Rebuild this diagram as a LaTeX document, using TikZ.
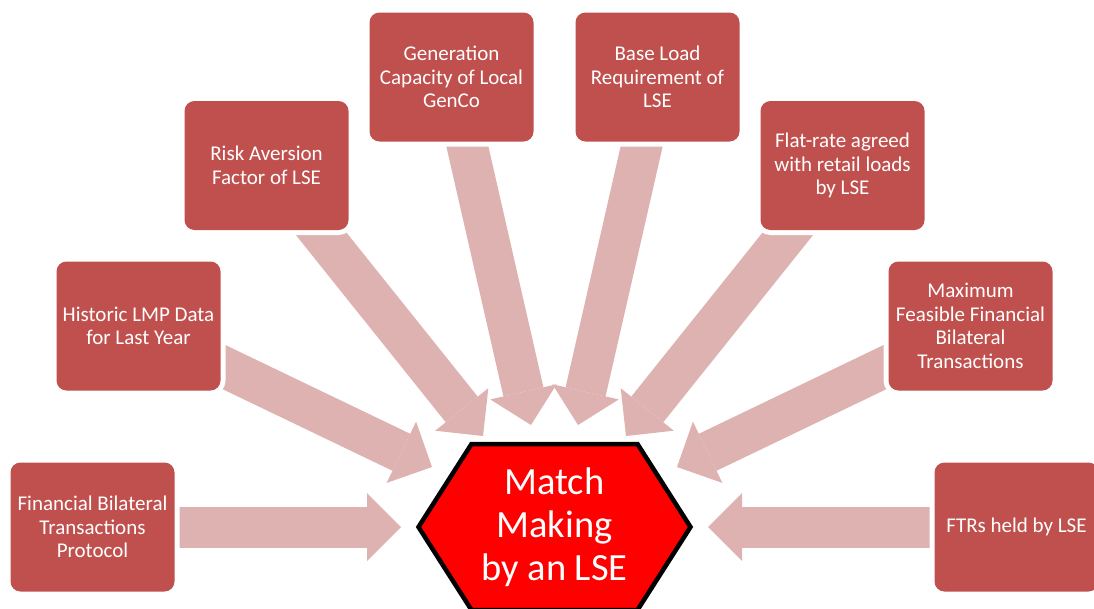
\documentclass[tikz,border=0pt]{standalone}
\usepackage{fontspec}
\setmainfont{Carlito}
\usetikzlibrary{arrows.meta,calc}
\definecolor{boxred}{RGB}{192,80,77}
\definecolor{flowpink}{RGB}{221,178,177}
\definecolor{hubred}{RGB}{255,0,0}
\pgfdeclarelayer{bg}
\pgfdeclarelayer{flow}
\pgfsetlayers{bg,flow,main}

\begin{document}
\begin{tikzpicture}[x=1pt,y=-1pt,
  inbox/.style={rectangle, rounded corners=10pt, fill=boxred, text=white,
    align=center, minimum width=164pt, minimum height=129pt, inner sep=0pt,
    font=\fontsize{21}{23.5}\selectfont,
    preaction={draw=white, line width=10pt}},
  feed/.style={draw=flowpink, line width=41pt,
    -{Triangle[length=34pt, width=68pt, line width=0pt]}},
  hubtext/.style={text=white, align=center, inner sep=0pt,
    font=\fontsize{38.5}{43}\selectfont},
  hubline/.style={fill=hubred, draw=black, line width=4.5pt, line join=miter}
]
\useasboundingbox (0,0) rectangle (1094,608);
\begin{pgfonlayer}{bg}
  \fill[white] (0,0) rectangle (1094,608);
\end{pgfonlayer}
\clip (0,0) rectangle (1094,608);

% input boxes
\node[inbox] (b1) at (92.5,527)   {Financial Bilateral\\Transactions\\Protocol};
\node[inbox] (b2) at (138.5,326)  {Historic LMP Data\\for Last Year};
\node[inbox] (b3) at (266.5,165.5){Risk Aversion\\Factor of LSE};
\node[inbox] (b4) at (451.5,77)   {Generation\\Capacity of Local\\GenCo};
\node[inbox] (b5) at (657.5,77)   {Base Load\\Requirement of\\LSE};
\node[inbox] (b6) at (842.5,165.5){Flat-rate agreed\\with retail loads\\by LSE};
\node[inbox] (b7) at (970.5,326)  {Maximum\\Feasible Financial\\Bilateral\\Transactions};
\node[inbox] (b8) at (1016.5,527) {FTRs held by LSE};

% central hexagon
\coordinate (hubc) at (554.5,527);
\path[hubline] ($(hubc)+(-136,0)$) -- ($(hubc)+(-83,-83)$) -- ($(hubc)+(83,-83)$)
  -- ($(hubc)+(136,0)$) -- ($(hubc)+(83,83)$) -- ($(hubc)+(-83,83)$) -- cycle;
\node[hubtext] (hub) at (hubc) {Match\\Making\\by an LSE};

% arrow tips around the hub
\coordinate (t1) at (401,527);
\coordinate (t2) at (432,467);
\coordinate (t3) at (483,436);
\coordinate (t4) at (531,425);
\coordinate (t5) at (578,425);
\coordinate (t6) at (626,436);
\coordinate (t7) at (677,467);
\coordinate (t8) at (708,527);

% block arrows, tucked under the boxes
\begin{pgfonlayer}{flow}
  \foreach \i in {1,...,8}{
    \draw[feed] (b\i.center) -- (t\i);
  }
\end{pgfonlayer}
\end{tikzpicture}
\end{document}
